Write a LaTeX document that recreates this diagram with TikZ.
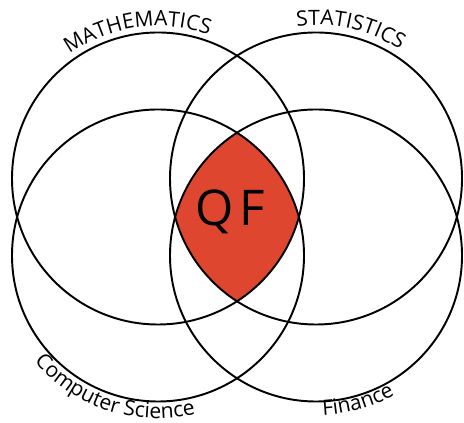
\documentclass[tikz,border=0pt]{standalone}
\usepackage{fontspec}
\setsansfont{Open Sans}
\definecolor{qfred}{RGB}{222,70,48}
\usetikzlibrary{decorations.text}

\begin{document}
\begin{tikzpicture}[
  ring/.style={draw=black,line width=1.1pt},
  lbl/.style={decorate,decoration={text along path,text align=center,
    text format delimiters={|}{|}}}]
  \useasboundingbox (0,0) rectangle (9.28,8.44);
  % centres
  \coordinate (math) at (3.16,4.87);
  \coordinate (stat) at (6.32,4.87);
  \coordinate (comp) at (3.16,3.33);
  \coordinate (fin)  at (6.32,3.33);
  % red core - common part of all four
  \begin{scope}
    \clip (math) circle[radius=2.92];
    \clip (stat) circle[radius=2.92];
    \clip (comp) circle[radius=2.92];
    \fill[qfred] (fin) circle[radius=2.92];
  \end{scope}
  % circles
  \foreach \c in {math,stat,comp,fin}
    \draw[ring] (\c) circle[radius=2.92];
  \node[font=\sffamily\fontsize{28}{30}\selectfont] (qf) at (4.6,4.2) {Q\hspace{0.12em}F};
  % labels
  \path[lbl,decoration={text={|\sffamily\large|MATHEMATICS}}]
    (math) ++(140:3.05) arc[start angle=140,end angle=56,radius=3.05];
  \path[lbl,decoration={text={|\sffamily\large|STATISTICS}}]
    (stat) ++(120:3.07) arc[start angle=120,end angle=34,radius=3.07];
  \path[lbl,decoration={text={|\sffamily\large|Computer Science}}]
    (comp) ++(203:3.26) arc[start angle=203,end angle=301,radius=3.26];
  \path[lbl,decoration={text={|\sffamily\large|Finance}}]
    (fin) ++(260:3.2) arc[start angle=260,end angle=312,radius=3.2];
\end{tikzpicture}
\end{document}
